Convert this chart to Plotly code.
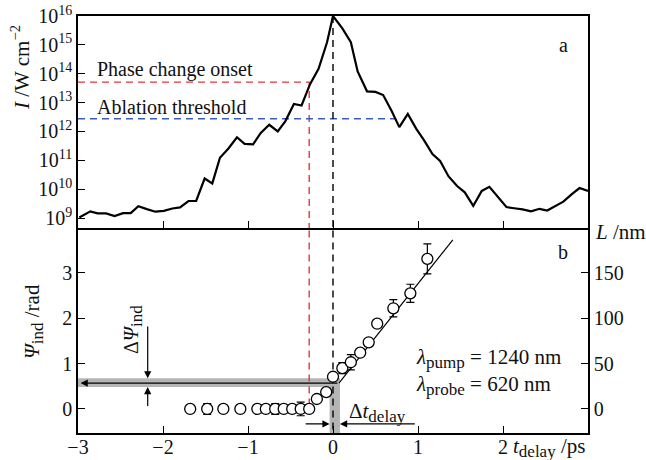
import plotly.graph_objects as go

# ---------------- data ----------------
# top panel: intensity profile (log10 of I, W cm^-2) vs delay time (ps)
t_int = [-2.985, -2.855, -2.77, -2.67, -2.57, -2.47, -2.38, -2.29, -2.19, -2.09, -1.99, -1.89,
         -1.80, -1.70, -1.61, -1.51, -1.42, -1.33, -1.23, -1.13, -1.04, -0.94, -0.85, -0.75,
         -0.65, -0.56, -0.46, -0.37, -0.27, -0.17, -0.07, 0.0, 0.11, 0.21, 0.29, 0.40, 0.50,
         0.59, 0.69, 0.78, 0.88, 0.98, 1.07, 1.17, 1.26, 1.36, 1.46, 1.55, 1.65, 1.75, 1.84,
         1.94, 2.04, 2.13, 2.23, 2.33, 2.43, 2.52, 2.62, 2.71, 2.81, 2.90, 3.0]
log_int = [9.02, 9.23, 9.16, 9.16, 9.07, 9.17, 9.17, 9.41, 9.31, 9.22, 9.25, 9.33,
           9.37, 9.59, 9.59, 10.37, 10.20, 11.09, 11.41, 11.80, 11.57, 11.55, 11.95, 12.23,
           12.00, 12.36, 12.95, 12.90, 13.64, 14.17, 15.09, 16.0, 15.57, 15.09, 14.08, 13.39, 13.37,
           13.26, 12.71, 12.15, 12.61, 12.09, 11.70, 11.22, 10.98, 10.44, 10.11, 9.89, 9.42, 9.94, 10.08,
           9.72, 9.38, 9.34, 9.30, 9.23, 9.32, 9.26, 9.42, 9.57, 9.83, 10.04, 9.94]
intensity = [10 ** v for v in log_int]

phase_change_I = 10 ** 13.71
ablation_I = 10 ** 12.44
phase_change_t = -0.28
ablation_t_end = 0.74

# bottom panel: induced phase vs delay
t_psi = [-1.68, -1.48, -1.29, -1.09, -0.89, -0.79, -0.68, -0.58, -0.48, -0.38, -0.28,
         -0.19, -0.08, 0.0, 0.11, 0.21, 0.32, 0.42, 0.52, 0.71, 0.91, 1.11]
psi = [0, 0, 0, 0, 0, 0, 0, 0, 0, 0, 0,
       0.22, 0.37, 0.71, 0.90, 1.03, 1.24, 1.47, 1.88, 2.22, 2.55, 3.31]
psi_err = [0, 0.12, 0, 0.08, 0, 0.05, 0.12, 0.05, 0.08, 0.15, 0,
           0.05, 0.05, 0.05, 0.12, 0.17, 0.06, 0.08, 0.08, 0.19, 0.20, 0.33]
fit_t = [0.07, 1.41]
fit_psi = [0.57, 3.73]

dpsi_level = 0.57
dpsi_band = [0.485, 0.675]
dt_band = [-0.04, 0.082]

top_ticks = [10 ** k for k in range(9, 17)]
top_ticktext = ["10<sup>%d</sup>" % k for k in range(9, 17)]
x_ticks = [-3, -2, -1, 0, 1, 2]
x_ticktext = ["\u22123", "\u22122", "\u22121", "0", "1", "2"]
psi_ticks = [0, 1, 2, 3]
L_ticks = [0, 50, 100, 150]

# ---------------- layout helpers ----------------
W, H = 646, 460
L_, R_, T_, B_ = 78, 588, 16, 433
SPLIT = 228
FONT = "'Liberation Serif', 'Times New Roman', 'DejaVu Serif', serif"
RED = "#e2383b"
BLUE = "#3a5bbf"
GREY = "#b4b4b4"
INK = "#111111"


def px(x):
    return (x - L_) / (R_ - L_)


def py(y):
    return (B_ - y) / (B_ - T_)


split_frac = py(SPLIT)

fig = go.Figure()

# top panel
fig.add_trace(go.Scatter(x=[-3, phase_change_t, phase_change_t], y=[phase_change_I, phase_change_I, 1e8],
                         mode="lines", line=dict(color=RED, width=1.4, dash="7px,5px"),
                         xaxis="x", yaxis="y", hoverinfo="skip"))
fig.add_trace(go.Scatter(x=[-3, ablation_t_end], y=[ablation_I, ablation_I],
                         mode="lines", line=dict(color=BLUE, width=1.4, dash="7px,5px"),
                         xaxis="x", yaxis="y", hoverinfo="skip"))
fig.add_trace(go.Scatter(x=[0, 0], y=[1e16, 1e8],
                         mode="lines", line=dict(color="black", width=1.4, dash="7px,5px"),
                         xaxis="x", yaxis="y", hoverinfo="skip"))
fig.add_trace(go.Scatter(x=t_int, y=intensity, mode="lines",
                         line=dict(color="black", width=2.2),
                         xaxis="x", yaxis="y", hoverinfo="skip"))

# bottom panel
fig.add_trace(go.Scatter(x=[phase_change_t, phase_change_t], y=[4.2, 0],
                         mode="lines", line=dict(color=RED, width=1.4, dash="7px,5px"),
                         xaxis="x2", yaxis="y2", hoverinfo="skip"))
fig.add_trace(go.Scatter(x=[0, 0], y=[4.2, -0.6],
                         mode="lines", line=dict(color="black", width=1.4, dash="7px,5px"),
                         xaxis="x2", yaxis="y2", hoverinfo="skip"))
fig.add_trace(go.Scatter(x=fit_t, y=fit_psi, mode="lines",
                         line=dict(color="black", width=1.2),
                         xaxis="x2", yaxis="y2", hoverinfo="skip"))
fig.add_trace(go.Scatter(x=t_psi, y=psi, mode="markers",
                         marker=dict(symbol="circle", size=11, color="white",
                                     line=dict(color="black", width=1.3)),
                         error_y=dict(type="data", array=psi_err, visible=True,
                                      color="black", thickness=1.2, width=4),
                         xaxis="x2", yaxis="y2", hoverinfo="skip"))
# invisible trace to activate the right axis
fig.add_trace(go.Scatter(x=[None], y=[None], xaxis="x2", yaxis="y3", showlegend=False))

shapes = [
    dict(type="rect", xref="x2", yref="y2", x0=-3, x1=dt_band[1], y0=dpsi_band[0], y1=dpsi_band[1],
         fillcolor=GREY, line=dict(width=0), layer="below"),
    dict(type="rect", xref="x2", yref="y2", x0=dt_band[0], x1=dt_band[1], y0=-0.6, y1=dpsi_level,
         fillcolor=GREY, line=dict(width=0), layer="below"),
]

ann = []


def text(x, y, s, xa="left", ya="middle", angle=0, size=20):
    ann.append(dict(x=px(x), y=py(y), xref="paper", yref="paper", text=s, showarrow=False,
                    xanchor=xa, yanchor=ya, textangle=angle,
                    font=dict(family=FONT, size=size, color=INK)))


def sub(s):
    return "<sub><span style='font-size:17px'>%s</span></sub>" % s


text(95, 69, "Phase change onset")
text(95, 107, "Ablation threshold")
text(563, 45, "a", xa="center")
text(563, 252, "b", xa="center")
text(414, 358, "<i>\u03bb</i>" + sub("pump") + " = 1240 nm", size=21)
text(414, 385, "<i>\u03bb</i>" + sub("probe") + " = 620 nm", size=21)
text(347, 412, "\u0394<i>t</i>" + sub("delay"), size=21)
text(133, 330, "\u0394<i>\u03a8</i>" + sub("ind"), xa="center", angle=-90)
text(20, 68, "<i>I</i> /W cm<sup>\u22122</sup>", xa="center", angle=-90, size=21)
text(33, 322, "<i>\u03a8</i>" + sub("ind") + " /rad", xa="center", angle=-90, size=21)
text(593, 232, "<i>L</i> /nm", size=21)
text(511, 447, "<i>t</i>" + sub("delay") + " /ps", size=21)


def arrow(x_tail, y_tail, x_tip, y_tip):
    ann.append(dict(x=x_tip, y=y_tip, ax=x_tail, ay=y_tail, xref="x2", yref="y2",
                    axref="x2", ayref="y2", showarrow=True, arrowhead=2, arrowsize=1.2,
                    arrowwidth=1.2, arrowcolor="black", text=""))


arrow(fit_t[0], dpsi_level, -2.97, dpsi_level)
arrow(-2.18, 1.85, -2.18, dpsi_band[1])
arrow(-2.18, 0.03, -2.18, dpsi_band[0])
arrow(-0.34, -0.33, dt_band[0], -0.33)
arrow(0.98, -0.33, dt_band[1], -0.33)

axis_common = dict(showline=True, linecolor="black", linewidth=1.5, ticks="inside", ticklen=7,
                   tickwidth=1.3, tickcolor="black", showgrid=False, zeroline=False,
                   automargin=False,
                   tickfont=dict(family=FONT, size=20, color=INK))

fig.update_layout(
    width=W, height=H,
    margin=dict(l=L_, r=W - R_, t=T_, b=H - B_, autoexpand=False),
    paper_bgcolor="white", plot_bgcolor="white",
    showlegend=False,
    font=dict(family=FONT, size=20, color=INK),
    shapes=shapes, annotations=ann,
    xaxis=dict(domain=[0, 1], range=[-3, 3], anchor="y", tickvals=[-2, -1, 0, 1, 2],
               showticklabels=False, mirror=True, **axis_common),
    yaxis=dict(domain=[split_frac, 1], type="log", range=[8.655, 16.0], anchor="x",
               tickvals=top_ticks, ticktext=top_ticktext, mirror=True, **axis_common),
    xaxis2=dict(domain=[0, 1], range=[-3, 3], anchor="y2", tickvals=x_ticks, ticktext=x_ticktext,
                mirror=False, ticklabelstandoff=-5, **axis_common),
    yaxis2=dict(domain=[0, split_frac], range=[-0.53, 3.99], anchor="x2", tickvals=psi_ticks,
                **axis_common),
    yaxis3=dict(overlaying="y2", side="right", anchor="x2", range=[-0.53 * 50, 3.99 * 50],
                tickvals=L_ticks, **axis_common),
)

fig.write_html("out.html")
